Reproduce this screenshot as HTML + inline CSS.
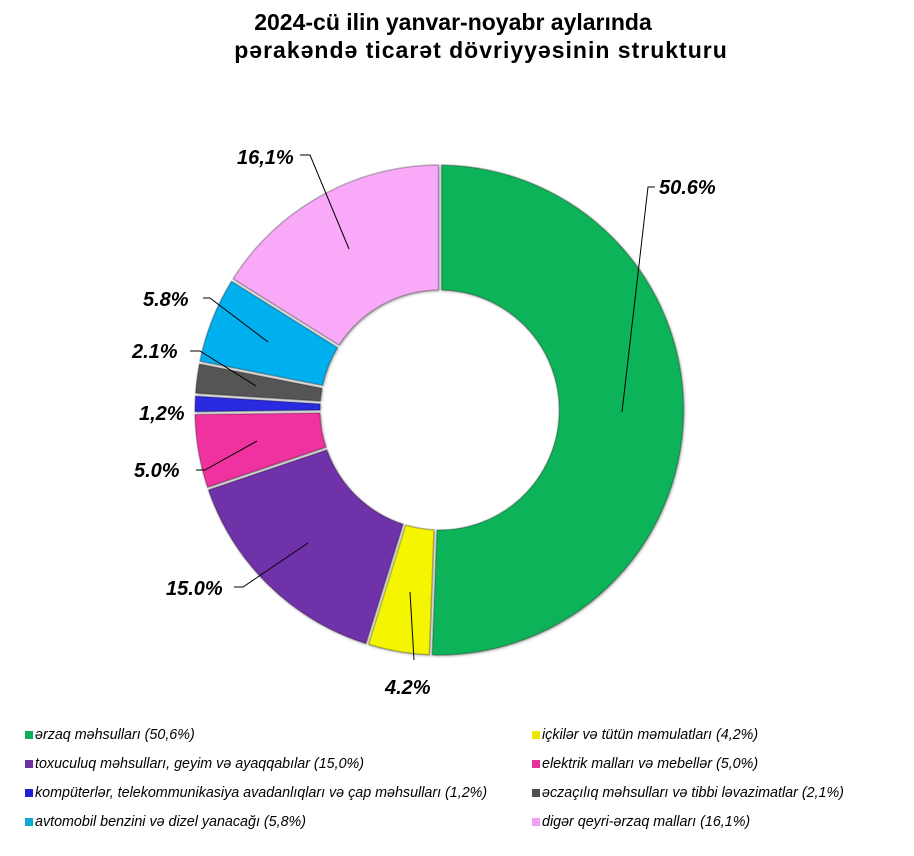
<!DOCTYPE html>
<html><head><meta charset="utf-8">
<style>
body{margin:0;background:#fff;width:914px;height:856px;overflow:hidden;font-family:"Liberation Sans",sans-serif;}
.t{position:absolute;left:0;width:914px;text-align:center;font-weight:bold;font-size:23px;color:#000;}
.lg{position:absolute;font-style:italic;font-size:14.3px;color:#000;white-space:nowrap;}
.lg i{display:inline-block;width:8px;height:8px;margin-right:2px;vertical-align:0px;}
</style></head><body>
<div class="t" style="top:9px;left:-4px">2024-cü ilin yanvar-noyabr aylarında</div>
<div class="t" style="top:37px;left:24px;letter-spacing:1px">pərakəndə ticarət dövriyyəsinin strukturu</div>
<svg id="s" width="914" height="720" style="position:absolute;left:0;top:0">
<defs>
<filter id="sh"><feDropShadow dx="1" dy="1" stdDeviation="1.2" flood-opacity="0.35"/></filter>
</defs>
<g id="p" filter="url(#sh)"></g>
<g stroke="#000" stroke-width="1" fill="none">
<polyline points="622,412 648,187 655,187"/>
<polyline points="410,592 414,660"/>
<polyline points="308,543 243,587 234,587"/>
<polyline points="257,441 205,470 196,470"/>
<polyline points="256,386 200,351 190,351"/>
<polyline points="268,342 210,298 203,298"/>
<polyline points="349,249 310,155 300,155"/>
</g>
<g font-family="Liberation Sans" font-weight="bold" font-style="italic" font-size="20" fill="#000">
<text x="659" y="194">50.6%</text>
<text x="385" y="694">4.2%</text>
<text x="166" y="595">15.0%</text>
<text x="134" y="477">5.0%</text>
<text x="139" y="420">1,2%</text>
<text x="132" y="358">2.1%</text>
<text x="143" y="306">5.8%</text>
<text x="237" y="164">16,1%</text>
</g>
</svg>
<div class="lg" style="left:25px;top:727px"><i style="background:#0fae55"></i>ərzaq məhsulları (50,6%)</div>
<div class="lg" style="left:25px;top:756px"><i style="background:#7030a0"></i>toxuculuq məhsulları, geyim və ayaqqabılar (15,0%)</div>
<div class="lg" style="left:25px;top:785px"><i style="background:#2020d0"></i>kompüterlər, telekommunikasiya avadanlıqları və çap məhsulları (1,2%)</div>
<div class="lg" style="left:25px;top:814px"><i style="background:#10a8d8"></i>avtomobil benzini və dizel yanacağı (5,8%)</div>
<div class="lg" style="left:532px;top:727px"><i style="background:#e8e800"></i>içkilər və tütün məmulatları (4,2%)</div>
<div class="lg" style="left:532px;top:756px"><i style="background:#e8309a"></i>elektrik malları və mebellər (5,0%)</div>
<div class="lg" style="left:532px;top:785px"><i style="background:#505050"></i>əczaçılıq məhsulları və tibbi ləvazimatlar (2,1%)</div>
<div class="lg" style="left:532px;top:814px"><i style="background:#f0a0f0"></i>digər qeyri-ərzaq malları (16,1%)</div>
<script>
var d=[[50.6,"#0db358"],[4.2,"#f5f500"],[15.0,"#7030a8"],[5.0,"#f032a0"],[1.2,"#2a2ae0"],[2.1,"#555555"],[5.8,"#05b0ee"],[16.1,"#f8aaf8"]];
var cx=440,cy=410,R=245,r=120,a=0,g=document.getElementById('p'),h='';
function pt(rad,ang){return [(cx+rad*Math.sin(ang)).toFixed(1),(cy-rad*Math.cos(ang)).toFixed(1)];}
d.forEach(function(s){var a0=a,a1=a+s[0]/100*2*Math.PI;a=a1;
var e=0.006,b0=a0+e,b1=a1-e,ei=e*R/r,c0=a0+ei,c1=a1-ei,l=(a1-a0)>Math.PI?1:0;
var p1=pt(R,b0),p2=pt(R,b1),p3=pt(r,c1),p4=pt(r,c0);
h+='<path d="M'+p1+' A'+R+','+R+' 0 '+l+' 1 '+p2+' L'+p3+' A'+r+','+r+' 0 '+l+' 0 '+p4+' Z" fill="'+s[1]+'" stroke="rgba(0,0,0,0.25)" stroke-width="1.5"/>';});
g.innerHTML=h;
</script>
</body></html>
